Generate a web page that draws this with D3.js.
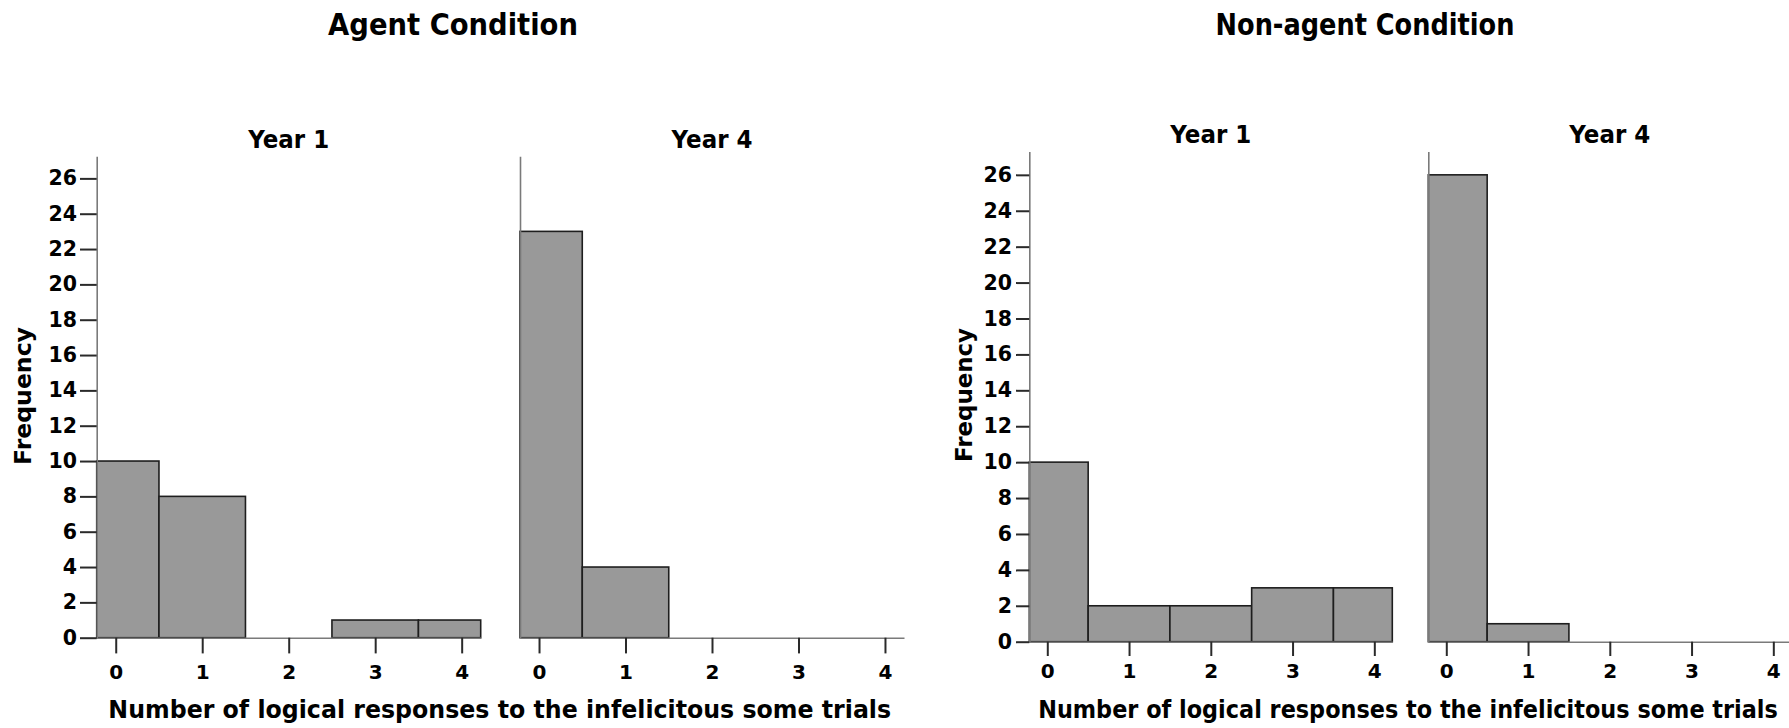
<!DOCTYPE html>
<html>
<head>
<meta charset="utf-8">
<script src="https://cdn.jsdelivr.net/npm/d3@7"></script>
<style>
  html, body { margin: 0; padding: 0; background: #fff; }
  svg { display: block; }
  text { font-family: "DejaVu Sans", "Liberation Sans", sans-serif; font-weight: bold; fill: #000; }
</style>
</head>
<body>
<svg id="chart" width="1789" height="728"></svg>
<script>
// ---- data ----
const bins = [0, 1, 2, 3, 4];
const agentYear1 = [10, 8, 0, 1, 1];
const agentYear4 = [23, 4, 0, 0, 0];
const nonAgentYear1 = [10, 2, 2, 3, 3];
const nonAgentYear4 = [26, 1, 0, 0, 0];
const yTickValues = [0, 2, 4, 6, 8, 10, 12, 14, 16, 18, 20, 22, 24, 26];
const xTickValues = [0, 1, 2, 3, 4];
const conditionTitles = ["Agent Condition", "Non-agent Condition"];
const yearTitles = ["Year 1", "Year 4"];
const xAxisTitle = "Number of logical responses to the infelicitous some trials";
const yAxisTitle = "Frequency";

// ---- layout ----
const svg = d3.select("#chart");
const xDomain = [-0.22, 4.22];

// text squeezed horizontally to a target width (condensed look of the original)
function fitText(parent, str, cx, cy, fontSize, targetW, rotate) {
  const t = parent.append("text")
    .attr("text-anchor", "middle")
    .style("font-size", fontSize + "px")
    .text(str);
  const natural = t.node().getComputedTextLength();
  const sx = natural > 0 ? targetW / natural : 1;
  t.attr("transform", `translate(${cx},${cy})${rotate ? " rotate(" + rotate + ")" : ""} scale(${sx},1)`);
  return t;
}

const groups = [
  {
    title: conditionTitles[0], titleX: 453, titleW: 250,
    base: 637.7, top: 156.3, yMax: 27.25,
    yTickSize: 16.7, yTickPad: 3, xTickSize: 15.7, xTickPad: 11,
    yearY: 147.5, freqX: 31, freqY: 396, freqW: 138,
    xTitleX: 499.7, xTitleW: 783,
    panels: [
      { name: yearTitles[0], values: agentYear1, x0: 96.7, x1: 480.7, showY: true },
      { name: yearTitles[1], values: agentYear4, x0: 520, x1: 904, showY: false }
    ]
  },
  {
    title: conditionTitles[1], titleX: 1365, titleW: 299,
    base: 641.7, top: 151.5, yMax: 27.3,
    yTickSize: 13.3, yTickPad: 4, xTickSize: 14.3, xTickPad: 8,
    yearY: 142.5, freqX: 972, freqY: 395, freqW: 134,
    xTitleX: 1408, xTitleW: 740,
    panels: [
      { name: yearTitles[0], values: nonAgentYear1, x0: 1029.3, x1: 1392.3, showY: true },
      { name: yearTitles[1], values: nonAgentYear4, x0: 1428.3, x1: 1791.3, showY: false }
    ]
  }
];

groups.forEach(g => {
  // condition title
  fitText(svg, g.title, g.titleX, 35, 30, g.titleW);

  const y = d3.scaleLinear().domain([0, g.yMax]).range([g.base, g.top]);

  g.panels.forEach(p => {
    const x = d3.scaleLinear().domain(xDomain).range([p.x0, p.x1]).clamp(true);
    const pg = svg.append("g");

    // year title
    fitText(pg, p.name, (p.x0 + p.x1) / 2, g.yearY, 25, 81);

    // bars
    const data = bins.map((b, i) => ({ b, v: p.values[i] })).filter(d => d.v > 0);
    pg.selectAll("rect.bar").data(data).join("rect")
      .attr("class", "bar")
      .attr("x", d => x(d.b - 0.5))
      .attr("width", d => x(d.b + 0.5) - x(d.b - 0.5))
      .attr("y", d => y(d.v))
      .attr("height", d => y(0) - y(d.v))
      .attr("fill", "#999999")
      .attr("stroke", "#1e1e1e")
      .attr("stroke-width", 1.6);

    // x axis
    const xAxis = d3.axisBottom(x).tickValues(xTickValues).tickFormat(d3.format("d"))
      .tickSize(g.xTickSize).tickSizeOuter(0).tickPadding(g.xTickPad);
    const xa = pg.append("g").attr("transform", `translate(0,${g.base})`).call(xAxis);
    xa.select(".domain").attr("stroke", "#7a7a7a").attr("stroke-width", 1.6);
    xa.selectAll(".tick line").attr("stroke", "#2a2a2a").attr("stroke-width", 2);
    xa.selectAll(".tick text").style("font-size", "20px")
      .style("font-family", "'DejaVu Sans', sans-serif").style("font-weight", "bold").attr("fill", "#000");

    // y axis
    if (p.showY) {
      const yAxis = d3.axisLeft(y).tickValues(yTickValues).tickFormat(d3.format("d"))
        .tickSize(g.yTickSize).tickSizeOuter(0).tickPadding(g.yTickPad);
      const ya = pg.append("g").attr("transform", `translate(${p.x0},0)`).call(yAxis);
      ya.select(".domain").attr("stroke", "#7a7a7a").attr("stroke-width", 1.6);
      ya.selectAll(".tick line").attr("stroke", "#2a2a2a").attr("stroke-width", 2);
      ya.selectAll(".tick text").style("font-size", "20.5px")
        .style("font-family", "'DejaVu Sans', sans-serif").style("font-weight", "bold").attr("fill", "#000");
    } else {
      const yAxis = d3.axisLeft(y).tickValues([]).tickSizeOuter(0);
      const ya = pg.append("g").attr("transform", `translate(${p.x0},0)`).call(yAxis);
      ya.select(".domain").attr("stroke", "#7a7a7a").attr("stroke-width", 1.6);
    }
  });

  // Frequency label (baseline placed so glyphs are centred on freqX - 8)
  fitText(svg, yAxisTitle, g.freqX, g.freqY, 23, g.freqW, -90);

  // x axis title
  fitText(svg, xAxisTitle, g.xTitleX, 718, 25, g.xTitleW);
});
</script>
</body>
</html>
